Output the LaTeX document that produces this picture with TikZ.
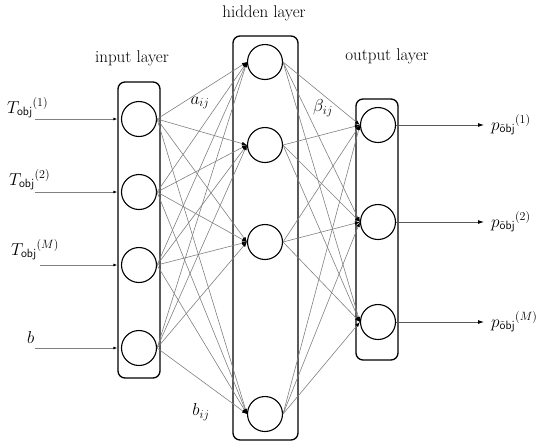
\documentclass[tikz,border=0pt]{standalone}
\usetikzlibrary{arrows.meta}
\begin{document}
\begin{tikzpicture}[x=1pt,y=-1pt,
  font=\fontsize{17}{20}\selectfont,
  neuron/.style={circle,draw=black,line width=1.1pt,minimum size=35pt,inner sep=0pt},
  layerbox/.style={draw=black,line width=1.3pt,rounded corners=7pt,inner sep=0pt},
  conn/.style={draw=black!50,line width=0.6pt,-{Latex[length=5pt,width=3.6pt,color=black]}},
  inarrow/.style={draw=black!50,line width=0.8pt,-{Latex[length=4pt,width=3pt,color=black]}},
  outarrow/.style={draw=black!65,line width=0.8pt,-{Latex[length=6pt,width=4pt,color=black]}},
  title/.style={inner sep=0pt},
  lab/.style={inner sep=0pt,anchor=base west,font=\fontsize{18}{21}\selectfont}]
\useasboundingbox (0,0) rectangle (550,448);
% layer boxes
\node[layerbox,minimum width=42pt,minimum height=296pt] (inbox) at (139,230) {};
\node[layerbox,minimum width=65pt,minimum height=404pt] (hidbox) at (265.5,238) {};
\node[layerbox,minimum width=42pt,minimum height=261pt] (outbox) at (377,229.5) {};
% titles
\node[title] (tin) at (132,58) {input layer};
\node[title] (thid) at (264,13) {hidden layer};
\node[title] (tout) at (387,56) {output layer};
% neurons
\node[neuron] (i1) at (139,119) {};
\node[neuron] (i2) at (139,192) {};
\node[neuron] (i3) at (139,265) {};
\node[neuron] (i4) at (139,348) {};
\node[neuron] (h1) at (265,62) {};
\node[neuron] (h2) at (265,145) {};
\node[neuron] (h3) at (265,242) {};
\node[neuron] (h4) at (265,414) {};
\node[neuron] (o1) at (378,125) {};
\node[neuron] (o2) at (378,222) {};
\node[neuron] (o3) at (378,322) {};
% connections
\foreach \i in {1,...,4}{\foreach \j in {1,...,4}{\draw[conn] (i\i.east) -- (h\j.west);}}
\foreach \j in {1,...,4}{\foreach \k in {1,...,3}{\draw[conn] (h\j.east) -- (o\k.west);}}
% inputs
\node[lab] (l1) at (7,113) {$T_{\mathsf{obj}}{}^{(1)}$};
\node[lab] (l2) at (9,185) {$T_{\mathsf{obj}}{}^{(2)}$};
\node[lab] (l3) at (11,255) {$T_{\mathsf{obj}}{}^{(M)}$};
\node[lab] (l4) at (27,343) {$b$};
\coordinate (s1) at (35,119);
\coordinate (s2) at (35,192);
\coordinate (s3) at (40,265);
\coordinate (s4) at (35,348);
\foreach \n in {1,...,4}{\draw[inarrow] (s\n) -- (s\n -| inbox.west);}
% outputs
\coordinate (r1) at (484,125);
\coordinate (r2) at (484,222);
\coordinate (r3) at (484,322);
\foreach \n in {1,2,3}{\draw[outarrow] (o\n.east) -- (r\n);}
\node[lab] (p1) at (491,130) {$p_{\tilde{\mathsf{o}}\mathsf{bj}}{}^{(1)}$};
\node[lab] (p2) at (491,227) {$p_{\tilde{\mathsf{o}}\mathsf{bj}}{}^{(2)}$};
\node[lab] (p3) at (491,327) {$p_{\tilde{\mathsf{o}}\mathsf{bj}}{}^{(M)}$};
% weight labels
\node[title,font=\fontsize{18}{21}\selectfont] (aij) at (200,103) {$a_{ij}$};
\node[title,font=\fontsize{18}{21}\selectfont] (bij) at (323,108) {$\beta_{ij}$};
\node[title,font=\fontsize{18}{21}\selectfont] (bbij) at (201,412) {$b_{ij}$};
\end{tikzpicture}
\end{document}
